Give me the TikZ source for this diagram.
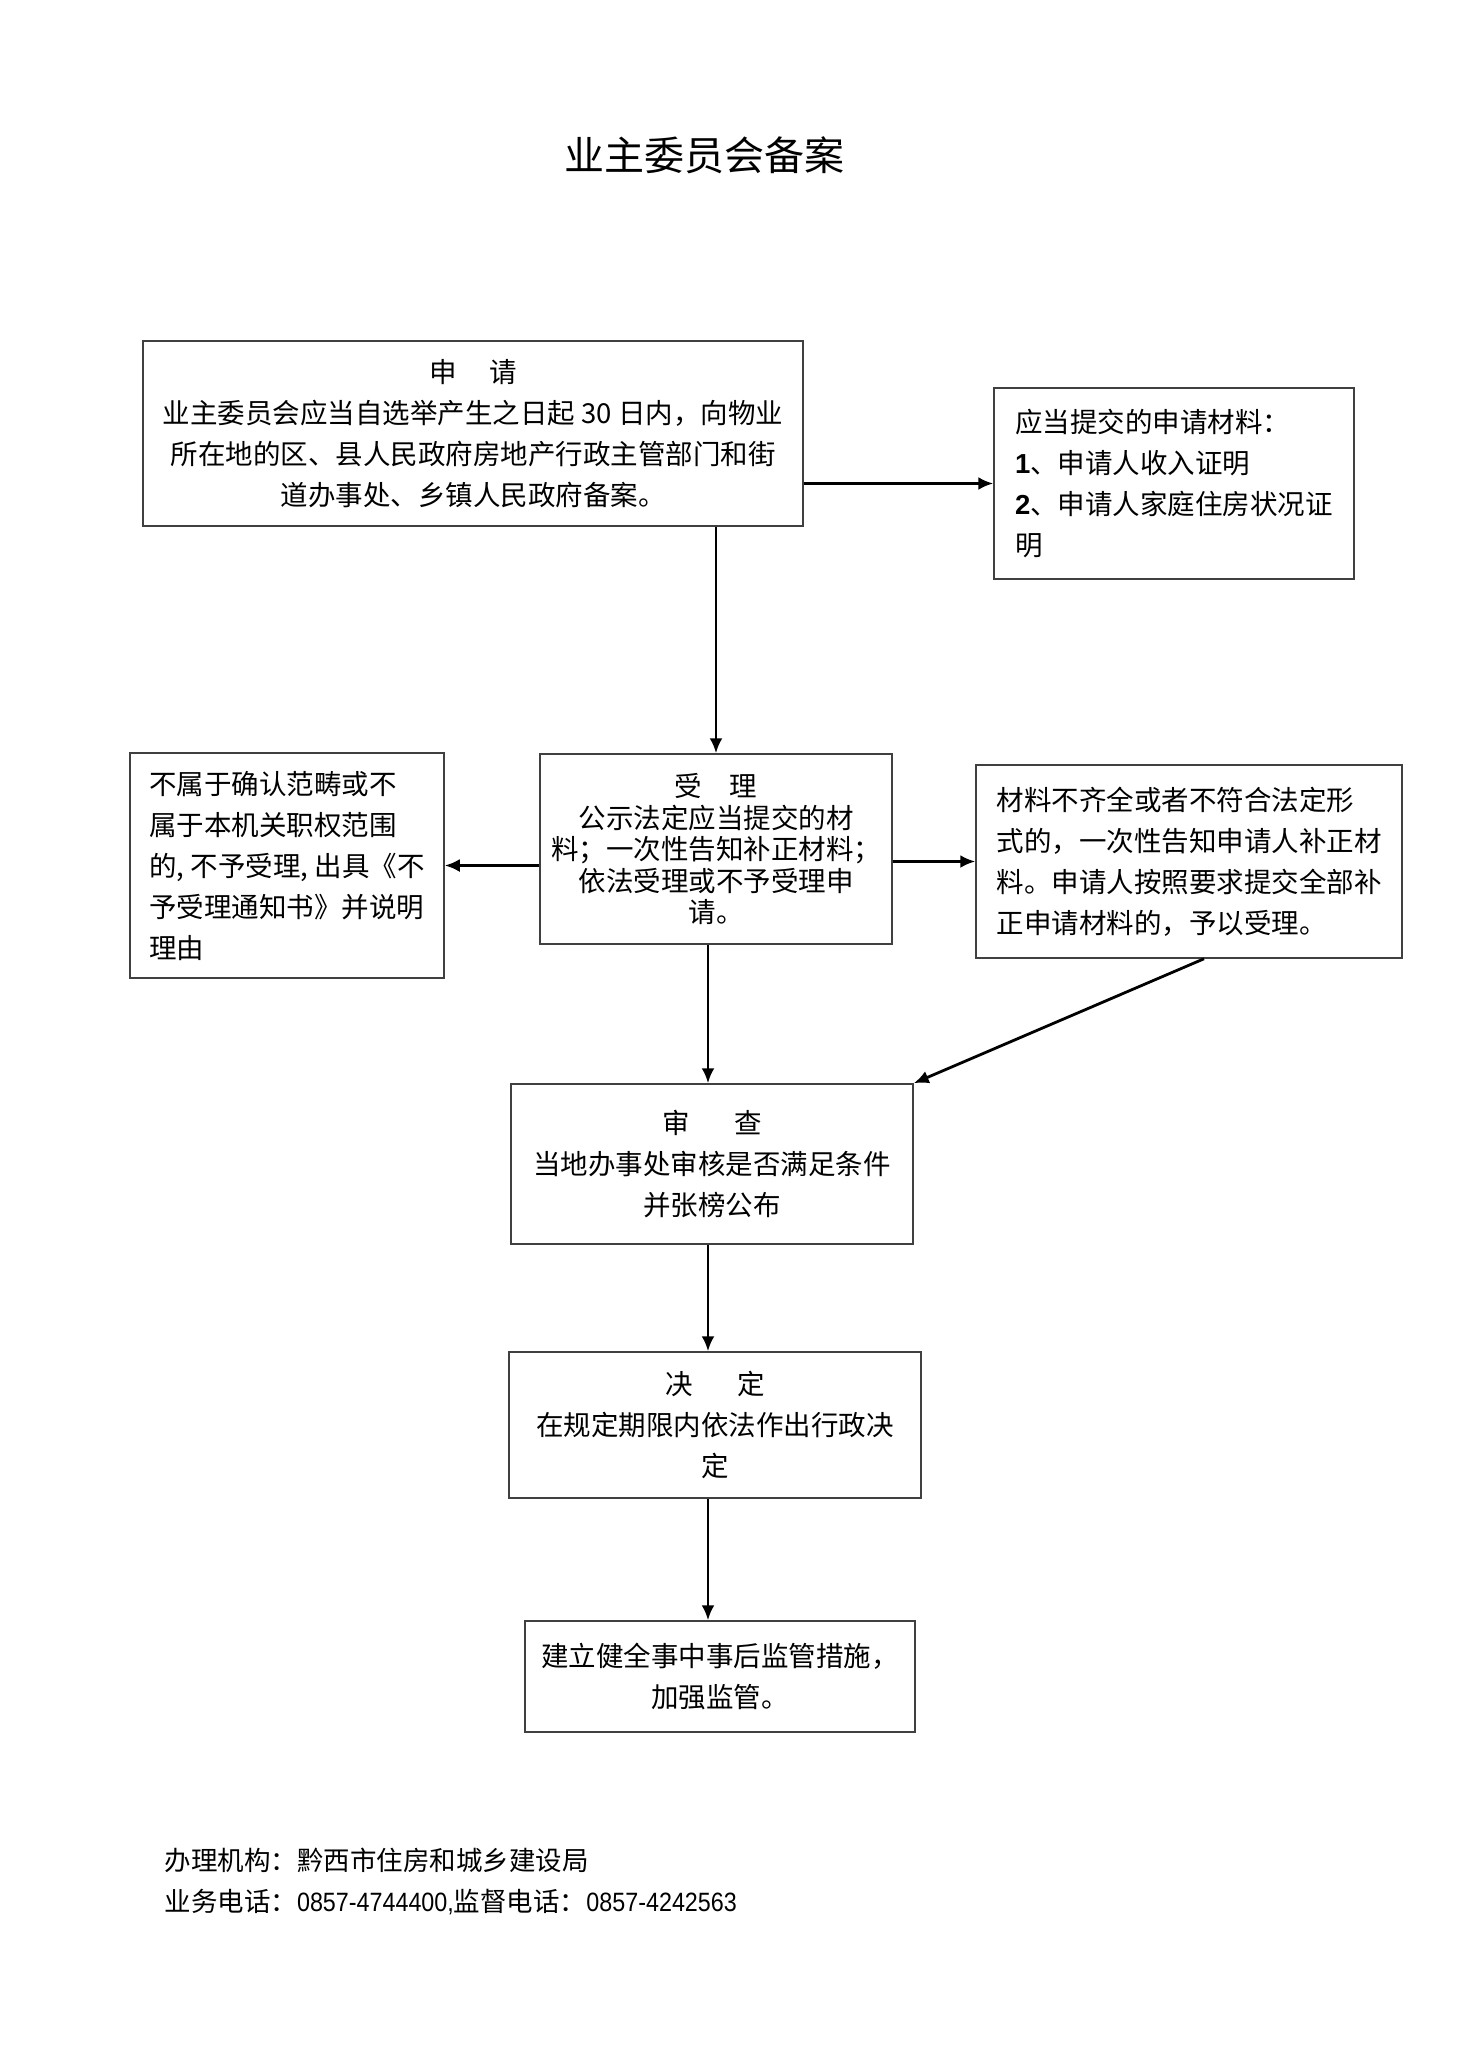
\documentclass[tikz,border=0pt]{standalone}
\usepackage{fontspec}
\setmainfont{Noto Sans CJK SC}
\newfontfamily\lat{Liberation Sans}
\newfontfamily\latn[FakeStretch=0.88]{Liberation Sans}
\usetikzlibrary{arrows.meta}
\begin{document}
\begin{tikzpicture}[x=1pt,y=-1pt,
  box/.style={draw=black!75, line width=1.5pt, inner sep=0pt, align=center,
    font=\fontsize{27.5}{41}\selectfont},
  lbox/.style={box, align=left, font=\fontsize{27.5}{41}\selectfont},
  arr/.style={line width=2.8pt, -{Latex[length=15pt,width=13pt]}}]
\useasboundingbox[fill=white] (0,0) rectangle (1462,2063);

\node[font=\fontsize{40}{48}\selectfont] (title) at (704,155) {业主委员会备案};

\node[box, minimum width=660pt, minimum height=185pt] (apply) at (473,433.5)
  {申\hspace{1.2em}请\\业主委员会应当自选举产生之日起 30 日内，向物业\\所在地的区、县人民政府房地产行政主管部门和街\\道办事处、乡镇人民政府备案。};

\node[box, align=left, minimum width=360pt, minimum height=191pt] (mat) at (1174,483.5)
  {应当提交的申请材料：\\{\lat\bfseries 1}、申请人收入证明\\{\lat\bfseries 2}、申请人家庭住房状况证\\明};

\node[box, minimum width=352pt, minimum height=190pt, font=\fontsize{27.5}{31.5}\selectfont] (accept) at (716,849)
  {受\hspace{1em}理\\公示法定应当提交的材\\料；一次性告知补正材料；\\依法受理或不予受理申\\请。};

\node[lbox, minimum width=314pt, minimum height=225pt] (rej) at (287,865.5)
  {不属于确认范畴或不\\属于本机关职权范围\\的, 不予受理, 出具《不\\予受理通知书》并说明\\理由};

\node[lbox, minimum width=426pt, minimum height=193pt] (supp) at (1189,861.5)
  {材料不齐全或者不符合法定形\\式的，一次性告知申请人补正材\\料。申请人按照要求提交全部补\\正申请材料的，予以受理。};

\node[box, minimum width=402pt, minimum height=160pt] (review) at (712,1164)
  {审\hspace{1.6em}查\\当地办事处审核是否满足条件\\并张榜公布};

\node[box, minimum width=412pt, minimum height=146pt] (decide) at (715,1425)
  {决\hspace{1.6em}定\\在规定期限内依法作出行政决\\定};

\node[box, minimum width=390pt, minimum height=111pt] (final) at (720,1676.5)
  {建立健全事中事后监管措施，\\加强监管。};

\node[anchor=west, font=\fontsize{26.5}{30}\selectfont] (org) at (161,1860)
  {办理机构：黔西市住房和城乡建设局};
\node[anchor=west, font=\fontsize{26.5}{30}\selectfont] (tel) at (161,1902)
  {业务电话：{\latn 0857-4744400,}监督电话：{\latn 0857-4242563}};

\draw[arr] (apply.east |- mat.west) -- (mat.west);
\draw[arr] (accept.north |- apply.south) -- (accept.north);
\draw[arr] (accept.west |- rej.east) -- (rej.east);
\draw[arr] (accept.east |- supp.west) -- (supp.west);
\draw[arr] ([xshift=-4pt]accept.south -| review.north) -- ([xshift=-4pt]review.north);
\draw[arr] ([xshift=15pt]supp.south) -- (review.north east);
\draw[arr] ([xshift=-4pt]review.south) -- ([xshift=-4pt]review.south |- decide.north);
\draw[arr] ([xshift=-7pt]decide.south) -- ([xshift=-7pt]decide.south |- final.north);
\end{tikzpicture}
\end{document}
